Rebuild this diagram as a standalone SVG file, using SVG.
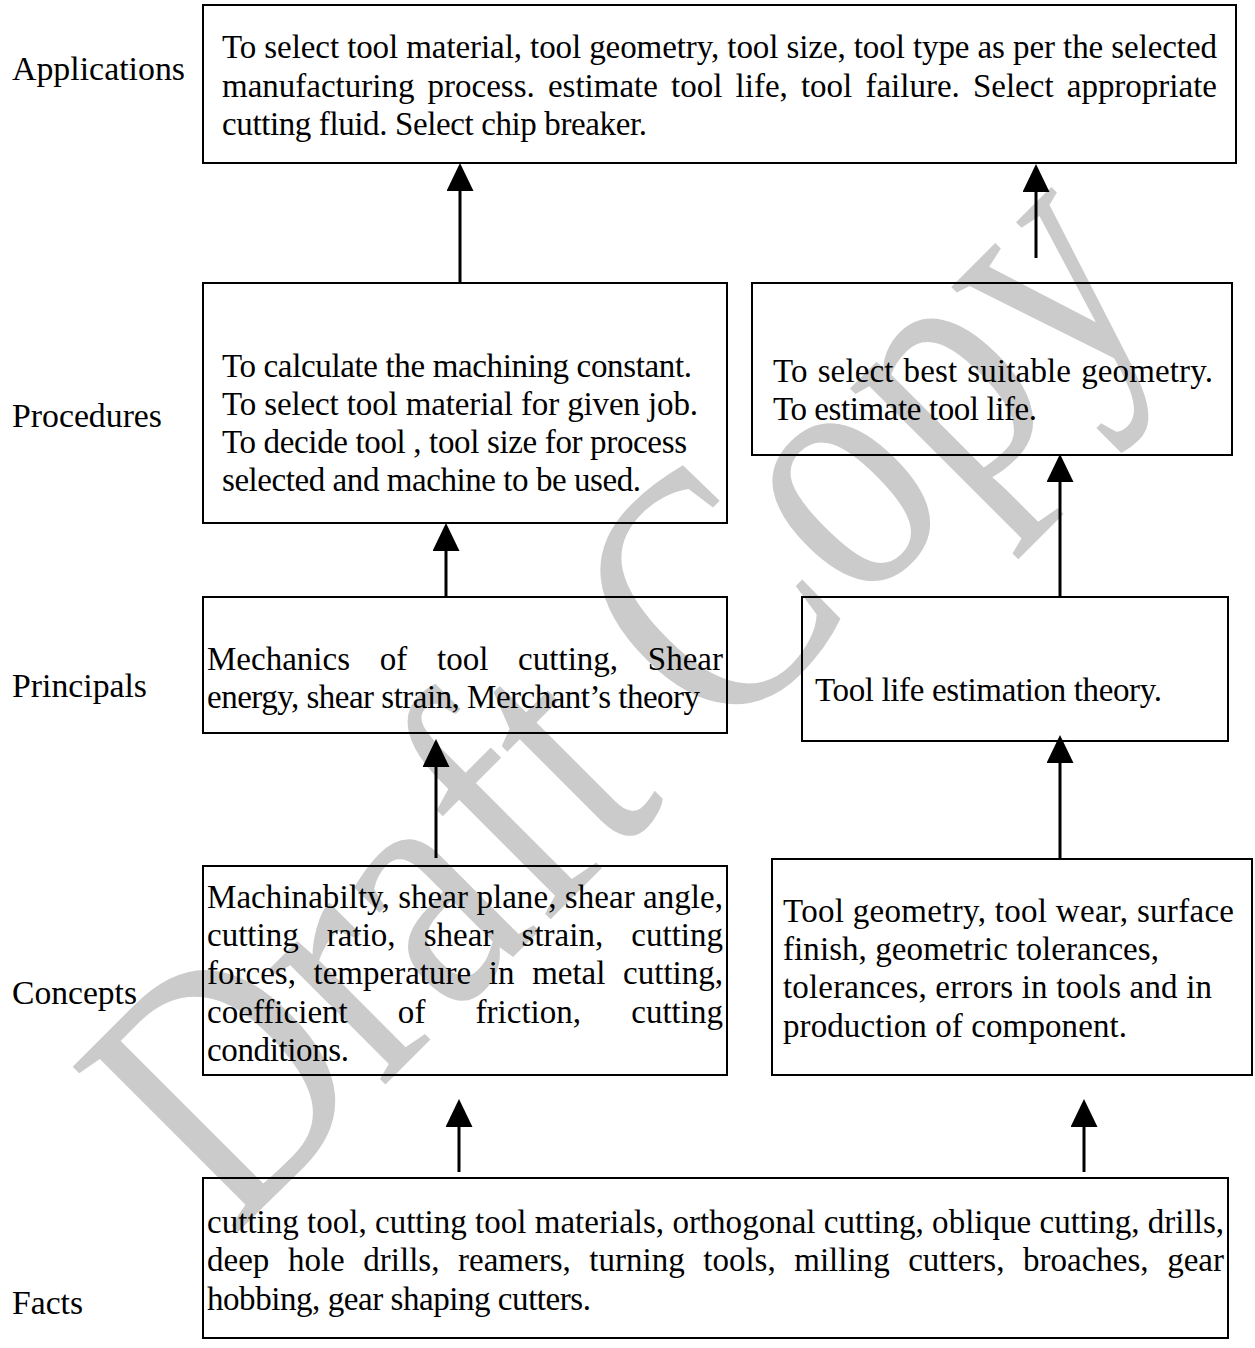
<svg xmlns="http://www.w3.org/2000/svg" width="1255" height="1348" viewBox="0 0 1255 1348">
<style>
.t{font-family:"Liberation Serif","Times New Roman",serif;font-size:33px;fill:#000}
.lb{font-family:"Liberation Serif","Times New Roman",serif;font-size:33.5px;fill:#000}
.box{fill:none;stroke:#000;stroke-width:2}
.ln{stroke:#000;stroke-width:3;fill:none}
.wm{font-family:"Liberation Serif","Times New Roman",serif;font-size:340px;fill:#cbcbcb}
</style>
<defs>
<marker id="ah" markerUnits="userSpaceOnUse" markerWidth="28" markerHeight="27" viewBox="0 0 28 27" refX="8" refY="13.5" orient="auto">
<path d="M0,0 L28,13.5 L0,27 Z" fill="#000"/>
</marker>
</defs>
<rect width="1255" height="1348" fill="#fff"/>
<g id="watermark">
<text class="wm" x="0" y="0" text-anchor="middle" transform="translate(700,770) rotate(-45) scale(0.86,1.05)">Draft Copy</text>
</g>
<g id="labels">
<text class="lb" x="12" y="80" textLength="173" lengthAdjust="spacingAndGlyphs">Applications</text>
<text class="lb" x="12" y="427" textLength="150" lengthAdjust="spacingAndGlyphs">Procedures</text>
<text class="lb" x="12" y="697" textLength="135" lengthAdjust="spacingAndGlyphs">Principals</text>
<text class="lb" x="12" y="1004" textLength="125" lengthAdjust="spacingAndGlyphs">Concepts</text>
<text class="lb" x="12" y="1314" textLength="71" lengthAdjust="spacingAndGlyphs">Facts</text>
</g>
<g id="applications">
<rect class="box" x="203" y="5" width="1033" height="158"/>
<text class="t" x="222" y="58" textLength="995" lengthAdjust="spacing">To select tool material, tool geometry, tool size, tool type as per the selected</text>
<text class="t" x="222" y="97" textLength="995" lengthAdjust="spacing" word-spacing="4.9">manufacturing process. estimate tool life, tool failure. Select appropriate</text>
<text class="t" x="222" y="135" textLength="425" lengthAdjust="spacing">cutting fluid. Select chip breaker.</text>
</g>
<g id="procedures-left">
<rect class="box" x="203" y="283" width="524" height="240"/>
<text class="t" x="222" y="377" textLength="470" lengthAdjust="spacing">To calculate the machining constant.</text>
<text class="t" x="222" y="415" textLength="476" lengthAdjust="spacing">To select tool material  for given job.</text>
<text class="t" x="222" y="453" textLength="465" lengthAdjust="spacing">To decide tool , tool size for process</text>
<text class="t" x="222" y="491" textLength="419" lengthAdjust="spacing">selected and machine to be used.</text>
</g>
<g id="procedures-right">
<rect class="box" x="752" y="283" width="480" height="172"/>
<text class="t" x="773" y="382" textLength="440" lengthAdjust="spacing" word-spacing="1.6">To select best suitable geometry.</text>
<text class="t" x="773" y="420" textLength="264" lengthAdjust="spacing">To estimate tool life.</text>
</g>
<g id="principals-left">
<rect class="box" x="203" y="597" width="524" height="136"/>
<text class="t" x="207" y="670" textLength="516" lengthAdjust="spacing" word-spacing="21.5">Mechanics of tool cutting, Shear</text>
<text class="t" x="207" y="708" textLength="493" lengthAdjust="spacing">energy, shear strain, Merchant’s theory</text>
</g>
<g id="principals-right">
<rect class="box" x="802" y="597" width="426" height="144"/>
<text class="t" x="815" y="701" textLength="347" lengthAdjust="spacing">Tool life estimation theory.</text>
</g>
<g id="concepts-left">
<rect class="box" x="203" y="866" width="524" height="209"/>
<text class="t" x="207" y="908" textLength="516" lengthAdjust="spacing">Machinabilty, shear plane, shear angle,</text>
<text class="t" x="207" y="946" textLength="516" lengthAdjust="spacing" word-spacing="19.9">cutting ratio, shear strain, cutting</text>
<text class="t" x="207" y="984" textLength="516" lengthAdjust="spacing" word-spacing="9.4">forces, temperature in metal cutting,</text>
<text class="t" x="207" y="1023" textLength="516" lengthAdjust="spacing" word-spacing="41.8">coefficient of friction, cutting</text>
<text class="t" x="207" y="1061" textLength="142" lengthAdjust="spacing">conditions.</text>
</g>
<g id="concepts-right">
<rect class="box" x="772" y="859" width="480" height="216"/>
<text class="t" x="783" y="922" textLength="451" lengthAdjust="spacing">Tool geometry, tool wear, surface</text>
<text class="t" x="783" y="960" textLength="376" lengthAdjust="spacing">finish, geometric tolerances,</text>
<text class="t" x="783" y="998" textLength="429" lengthAdjust="spacing">tolerances, errors in tools and in</text>
<text class="t" x="783" y="1037" textLength="344" lengthAdjust="spacing">production of component.</text>
</g>
<g id="facts">
<rect class="box" x="203" y="1178" width="1025" height="160"/>
<text class="t" x="207" y="1233" textLength="1017" lengthAdjust="spacing">cutting tool, cutting tool materials, orthogonal cutting, oblique cutting, drills,</text>
<text class="t" x="207" y="1271" textLength="1017" lengthAdjust="spacing" word-spacing="10.3">deep hole drills, reamers, turning tools, milling cutters, broaches, gear</text>
<text class="t" x="207" y="1310" textLength="384" lengthAdjust="spacing">hobbing, gear shaping cutters.</text>
</g>
<g id="connectors">
<line class="ln" x1="460" y1="282" x2="460" y2="183" marker-end="url(#ah)"/>
<line class="ln" x1="1036" y1="258" x2="1036" y2="184" marker-end="url(#ah)"/>
<line class="ln" x1="446" y1="597" x2="446" y2="543" marker-end="url(#ah)"/>
<line class="ln" x1="1060" y1="597" x2="1060" y2="474" marker-end="url(#ah)"/>
<line class="ln" x1="436" y1="858" x2="436" y2="759" marker-end="url(#ah)"/>
<line class="ln" x1="1060" y1="858" x2="1060" y2="755" marker-end="url(#ah)"/>
<line class="ln" x1="459" y1="1172" x2="459" y2="1119" marker-end="url(#ah)"/>
<line class="ln" x1="1084" y1="1172" x2="1084" y2="1119" marker-end="url(#ah)"/>
</g>
</svg>
